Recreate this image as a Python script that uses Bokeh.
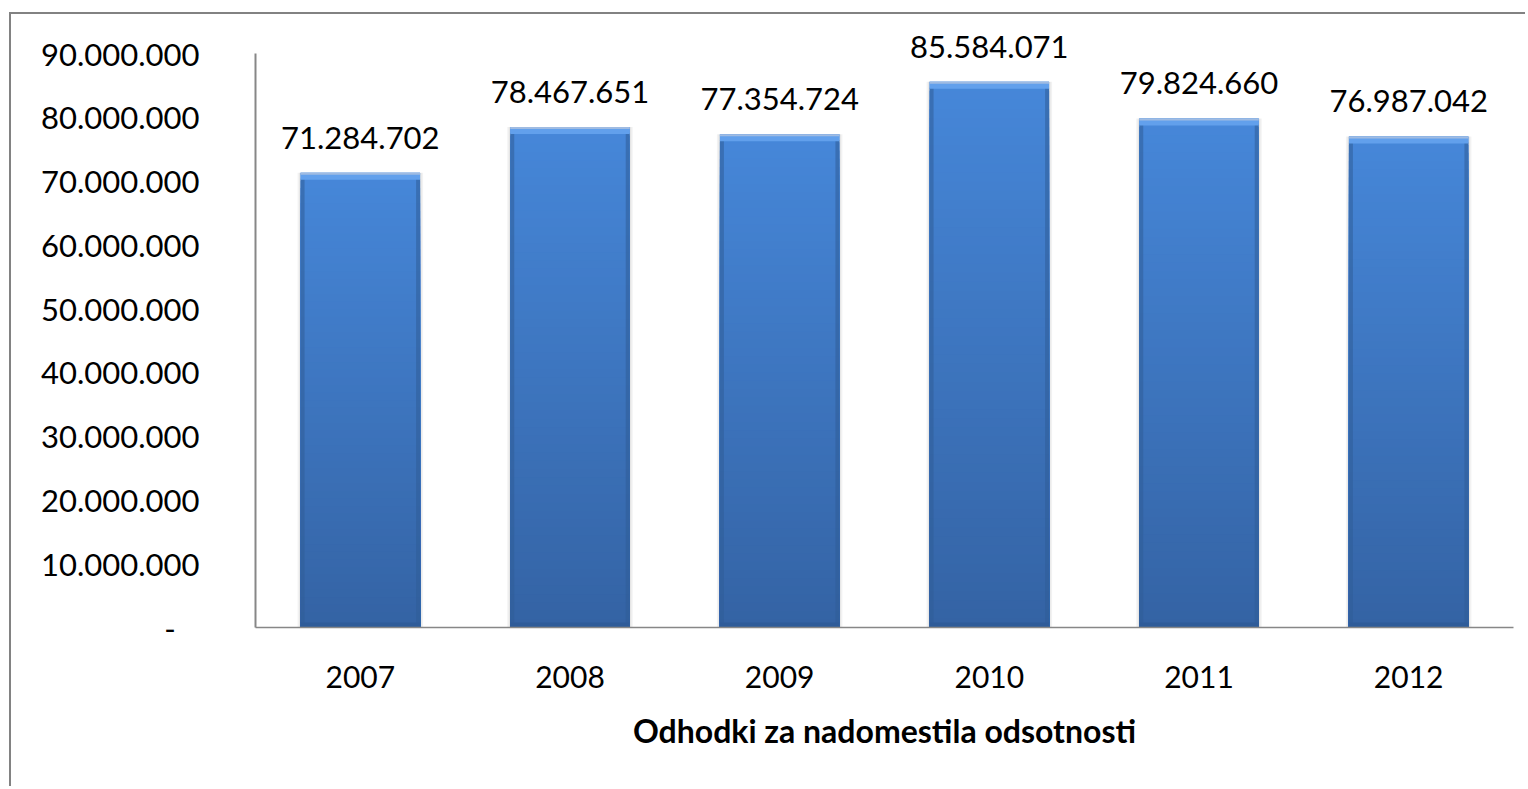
from bokeh.plotting import figure
from bokeh.models import Range1d, FixedTicker, ColumnDataSource, LabelSet
from bokeh.core.properties import value
from bokeh.embed import file_html
from bokeh.resources import INLINE

years = ["2007", "2008", "2009", "2010", "2011", "2012"]
amounts = [71284702, 78467651, 77354724, 85584071, 79824660, 76987042]
labels = ["71.284.702", "78.467.651", "77.354.724", "85.584.071", "79.824.660", "76.987.042"]
y_ticks = [0, 10e6, 20e6, 30e6, 40e6, 50e6, 60e6, 70e6, 80e6, 90e6]
y_tick_labels = ["-\u00a0\u00a0\u00a0", "10.000.000", "20.000.000", "30.000.000", "40.000.000",
                 "50.000.000", "60.000.000", "70.000.000", "80.000.000", "90.000.000"]
x_title = "Odhodki za nadomestila odsotnosti"

FONT = "Lato"
W, H = 1516, 774
AXIS_H = 574          # pixels from 0 to 90.000.000
EXTRA = 39            # room above 90.000.000 for value labels
FRAME_W, FRAME_H = 1258, AXIS_H + EXTRA
BL, BT = 244, 39 - EXTRA
Y_MAX = 90e6
y_top = Y_MAX * FRAME_H / AXIS_H

p = figure(width=W, height=H, output_backend="svg", toolbar_location=None,
           x_range=Range1d(0, len(years)), y_range=Range1d(0, y_top),
           min_border_left=BL, min_border_top=BT,
           min_border_right=W - BL - FRAME_W, min_border_bottom=H - BT - FRAME_H)
p.styles = {"border-top": "2px solid #828282", "border-left": "2px solid #828282",
            "margin-left": "9px", "margin-top": "12px"}
p.outline_line_color = None
p.grid.visible = False
p.background_fill_color = "white"
p.border_fill_color = "white"

xs = [i + 0.5 for i in range(len(years))]
bw = 0.57
px_x = len(years) / FRAME_W      # data units per pixel (x)
px_y = Y_MAX / AXIS_H            # data units per pixel (y)


def lerp(c1, c2, t):
    a = [int(c1[i:i + 2], 16) for i in (1, 3, 5)]
    b = [int(c2[i:i + 2], 16) for i in (1, 3, 5)]
    return "#%02x%02x%02x" % tuple(round(a[k] + (b[k] - a[k]) * t) for k in range(3))


# soft shadow
p.vbar(x=xs, top=amounts, bottom=[-px_y * 2] * len(xs), width=bw + 6 * px_x,
       fill_color="#000000", fill_alpha=0.05, line_color=None)
p.vbar(x=xs, top=amounts, bottom=[0] * len(xs), width=bw + 3 * px_x,
       fill_color="#000000", fill_alpha=0.05, line_color=None)

# gradient body (drawn top-down, each bar overpainting the lower part: no seams)
N = 60
top_c, bot_c = "#4687d9", "#3463a4"
for k in range(N - 1, -1, -1):
    f1 = (k + 1) / N
    p.vbar(x=xs, bottom=[0] * len(xs), top=[v * f1 for v in amounts],
           width=bw, fill_color=lerp(bot_c, top_c, (k + 0.5) / N), line_color=None)

# side bevels
side = 4 * px_x
for sgn in (-1, 1):
    p.vbar(x=[x + sgn * (bw / 2 - side / 2) for x in xs], top=[v - 6 * px_y for v in amounts],
           bottom=[5 * px_y] * len(xs), width=side, fill_color="#2f5c98", fill_alpha=0.55,
           line_color=None)
# top bevel
p.vbar(x=xs, top=amounts, bottom=[v - 7 * px_y for v in amounts], width=bw,
       fill_color="#62a0ec", line_color=None)
p.vbar(x=xs, top=amounts, bottom=[v - 2 * px_y for v in amounts], width=bw,
       fill_color="#9fbbe2", line_color=None)
# bottom bevel
p.vbar(x=xs, top=[5 * px_y] * len(xs), bottom=[0] * len(xs), width=bw,
       fill_color="#2e5a94", fill_alpha=0.7, line_color=None)

# value labels
src = ColumnDataSource(dict(x=xs, y=amounts, t=labels))
p.add_layout(LabelSet(x="x", y="y", text="t", source=src, y_offset=35, text_align="center",
                      text_baseline="middle", text_font=value(FONT), text_font_size="31px",
                      text_color="#000000"))

# axes
p.yaxis.ticker = FixedTicker(ticks=y_ticks)
p.yaxis.bounds = (0, Y_MAX)
p.yaxis.major_label_overrides = {t: l for t, l in zip(y_ticks, y_tick_labels)}
p.yaxis.major_tick_line_color = None
p.yaxis.minor_tick_line_color = None
p.yaxis.axis_line_color = "#878787"
p.yaxis.axis_line_width = 2
p.yaxis.major_label_standoff = 50
p.yaxis.major_label_text_font = FONT
p.yaxis.major_label_text_font_size = "31px"
p.yaxis.major_label_text_color = "#000000"

p.xaxis.ticker = FixedTicker(ticks=xs)
p.xaxis.major_label_overrides = {x: y for x, y in zip(xs, years)}
p.xaxis.major_tick_line_color = None
p.xaxis.minor_tick_line_color = None
p.xaxis.axis_line_color = "#878787"
p.xaxis.axis_line_width = 1.5
p.xaxis.major_label_standoff = 32
p.xaxis.major_label_text_font = FONT
p.xaxis.major_label_text_font_size = "30px"
p.xaxis.major_label_text_color = "#000000"
p.xaxis.axis_label = x_title
p.xaxis.axis_label_standoff = 20
p.xaxis.axis_label_text_font = FONT
p.xaxis.axis_label_text_font_size = "32px"
p.xaxis.axis_label_text_font_style = "bold"
p.xaxis.axis_label_text_color = "#000000"

open("out.html", "w").write(file_html(p, INLINE))
